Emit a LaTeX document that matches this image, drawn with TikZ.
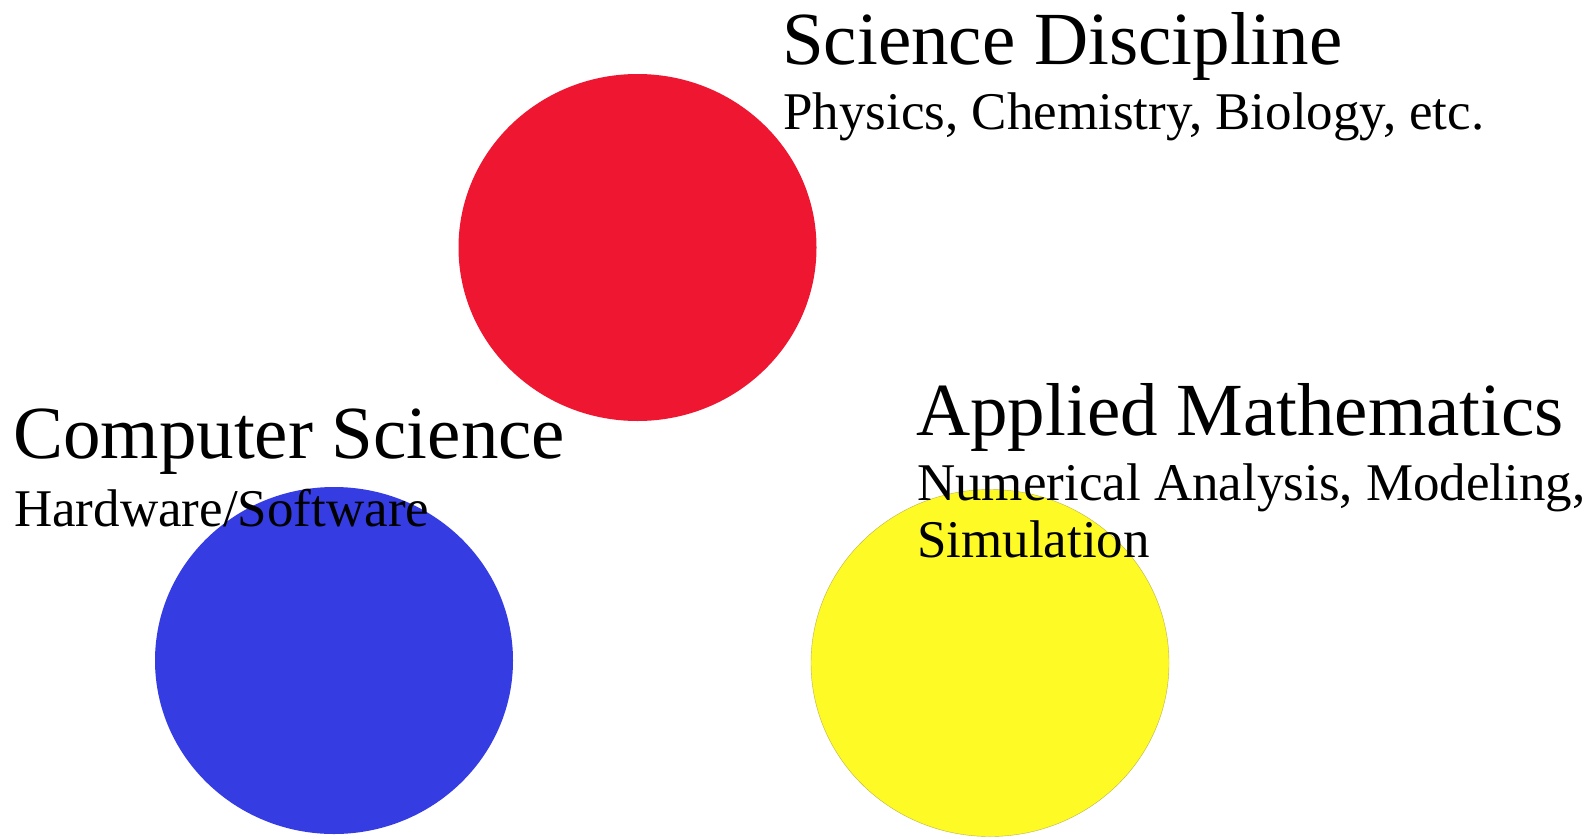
\documentclass[tikz,border=0pt]{standalone}
\usepackage{fontspec}
\setmainfont{Liberation Serif}
\usetikzlibrary{shapes.geometric}
\usepackage{xcolor}
\definecolor{DiscRed}{RGB}{238,22,48}
\definecolor{DiscBlue}{RGB}{52,60,226}
\definecolor{DiscYellow}{RGB}{253,250,38}
\definecolor{DiscEdge}{RGB}{190,180,70}

\begin{document}
\begin{tikzpicture}[
x=1pt,y=-1pt,
blob/.style={ellipse,inner sep=0,minimum width=358pt,minimum height=347pt},
headline/.style={anchor=base west,inner sep=0,font=\fontsize{75}{80}\selectfont},
subline/.style={anchor=base west,inner sep=0,align=left,font=\fontsize{53}{57}\selectfont}
]
\useasboundingbox (0,0) rectangle (1589,838);
% the three fields
\node[blob,fill=DiscRed] (sci) at (637.5,247.5) {};
\node[blob,fill=DiscBlue] (cs) at (334,660.5) {};
\node[blob,fill=DiscYellow,draw=DiscEdge,line width=0.4pt] (math) at (990,663) {};
% labels (base = last line)
\node[headline] (scititle) at (782,64) {Science Discipline};
\node[subline] (scisub) at (783,129) {Physics, Chemistry, Biology, etc.};
\node[headline] (cstitle) at (13,458) {Computer Science};
\node[subline] (cssub) at (14,526) {Hardware/Software};
\node[headline] (mathtitle) at (916,435) {Applied Mathematics};
\node[subline] (mathsub) at (917,557) {Numerical Analysis, Modeling,\\Simulation};
\end{tikzpicture}
\end{document}
